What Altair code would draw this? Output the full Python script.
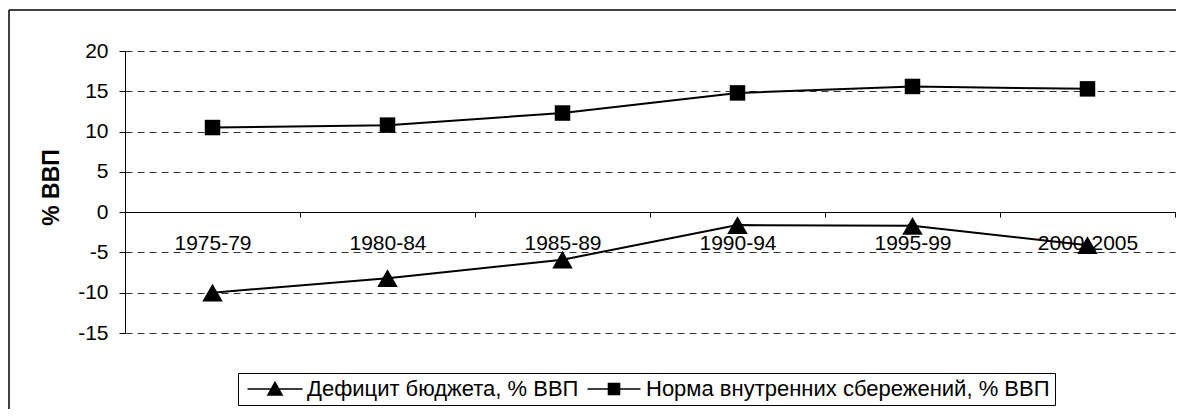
import altair as alt
import pandas as pd

categories = ["1975-79", "1980-84", "1985-89", "1990-94", "1995-99", "2000-2005"]
deficit = [-10.0, -8.2, -5.9, -1.6, -1.7, -4.1]
savings = [10.5, 10.8, 12.3, 14.8, 15.6, 15.3]
series_names = ["Дефицит бюджета, % ВВП", "Норма внутренних сбережений, % ВВП"]
y_ticks = [-15, -10, -5, 0, 5, 10, 15, 20]

rows = []
for c, d, s in zip(categories, deficit, savings):
    rows.append({"period": c, "series": series_names[0], "value": d})
    rows.append({"period": c, "series": series_names[1], "value": s})
df = pd.DataFrame(rows)

W, H = 1050, 282
FONT = "Liberation Sans, Arial, sans-serif"

x_enc = alt.X(
    "period:N", sort=categories, bandPosition=0.5,
    scale=alt.Scale(type="band", paddingInner=0, paddingOuter=0),
    axis=alt.Axis(title=None, offset=-121, tickBand="extent", tickSize=5,
                  labelPadding=15, labelFontSize=21, labelFont=FONT,
                  labelColor="black", domainColor="black", tickColor="black",
                  labelAngle=0, grid=False, domainWidth=1, labelOverlap=False),
)
y_enc = alt.Y(
    "value:Q",
    scale=alt.Scale(domain=[-15, 20], nice=False, zero=False),
    axis=alt.Axis(values=y_ticks, labelExpr="'' + datum.value",
                  title="% ВВП", titleFont=FONT, titleFontSize=23,
                  titleFontWeight="bold", titleColor="black", titleX=-62, titleY=136,
                  labelFont=FONT, labelFontSize=21, labelColor="black", labelPadding=11,
                  tickSize=6, tickColor="black", domainColor="black",
                  grid=True, gridDash=[7, 5], gridColor="#333333", gridWidth=1),
)

line = alt.Chart(df).mark_line(color="black", strokeWidth=2).encode(
    x=x_enc, y=y_enc, detail="series:N"
)
pts = alt.Chart(df).mark_point(filled=True, color="black", opacity=1).encode(
    x=x_enc, y=y_enc,
    shape=alt.Shape("series:N",
                    scale=alt.Scale(domain=series_names, range=["triangle-up", "square"]),
                    legend=None),
    size=alt.Size("series:N",
                  scale=alt.Scale(domain=series_names, range=[420, 240]),
                  legend=None),
)


# legend glyphs: a line with a solid marker, drawn with strokes only
def tri_glyph(half_line, top, base, half_w, step=0.1):
    p = f"M{-half_line},0H{half_line}M0,{top}L{half_w},{base}L{-half_w},{base}Z"
    y = top + step
    while y < base:
        hw = half_w * (y - top) / (base - top)
        p += f"M{-hw:.3f},{y:.3f}H{hw:.3f}"
        y += step
    return p


def sq_glyph(half_line, half, step=0.1):
    p = f"M{-half_line},0H{half_line}M{-half},{-half}H{half}V{half}H{-half}Z"
    y = -half + step
    while y < half:
        p += f"M{-half},{y:.3f}H{half}"
        y += step
    return p


path_tri = tri_glyph(2.75, -0.65, 0.6, 0.7)
path_sq = sq_glyph(2.65, 0.55)

leg = alt.Chart(df).transform_filter("false").mark_point(
    filled=False, stroke="black", strokeWidth=1.6, opacity=1
).encode(
    x=x_enc, y=y_enc,
    shape=alt.Shape("series:N",
                    scale=alt.Scale(domain=series_names, range=[path_tri, path_sq]),
                    legend=alt.Legend(title=None, orient="none", legendX=113, legendY=322,
                                      direction="horizontal", strokeColor="black",
                                      padding=5, symbolSize=400, symbolOffset=21,
                                      labelOffset=21, labelFont=FONT, labelFontSize=22,
                                      labelLimit=1000, labelColor="black", columnPadding=3,
                                      symbolStrokeWidth=1.6, symbolStrokeColor="black")),
)

top_rule = alt.Chart(pd.DataFrame({"a": [0]})).mark_rule(color="black", strokeWidth=1.5).encode(
    x=alt.value(-116), x2=alt.value(W + 20), y=alt.value(-41)
)
left_rule = alt.Chart(pd.DataFrame({"a": [0]})).mark_rule(color="black", strokeWidth=1.5).encode(
    x=alt.value(-116), y=alt.value(-41), y2=alt.value(H + 160)
)

chart = alt.layer(top_rule, left_rule, line, pts, leg).resolve_scale(
    shape="independent", size="independent"
).properties(
    width=W, height=H,
    autosize=alt.AutoSizeParams(type="none"),
    padding={"left": 117, "top": 43, "right": 1, "bottom": 76},
).configure_view(stroke=None)

chart.save("out.html", embed_options={"renderer": "svg", "actions": False})
